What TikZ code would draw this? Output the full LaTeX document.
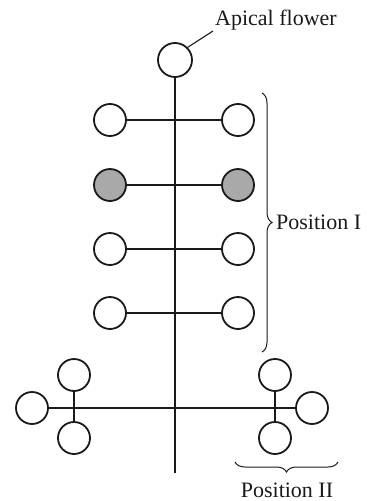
\documentclass[tikz,border=0pt]{standalone}
\usepackage{fontspec}
\setmainfont{Liberation Serif}
\usetikzlibrary{decorations.pathreplacing}
\definecolor{ink}{HTML}{1A1A1A}
\definecolor{shade}{HTML}{A9A9A9}
\begin{document}
\begin{tikzpicture}[x=1pt,y=-1pt,
  flower/.style={circle,draw=ink,line width=1.8pt,fill=white,minimum size=32pt,inner sep=0pt},
  shaded/.style={flower,fill=shade},
  axis/.style={draw=ink,line width=1.5pt},
  lbl/.style={font=\fontsize{22}{26}\selectfont,inner sep=0pt,text=ink},
  bracelines/.style={draw=ink,line width=1pt,decorate,decoration={brace,amplitude=10pt}}]
\useasboundingbox (0,0) rectangle (367,501);
% apical flower
\node[flower,minimum size=34pt] (a) at (175,60) {};
\coordinate (base) at (175,473);
\draw[axis] (a) -- (base);
\coordinate (lead) at (213,31);
\draw[draw=ink,line width=1.1pt] (a.45) -- (lead);
\node[lbl,anchor=base west] (apical) at (215,25) {Apical flower};
% position I rows
\node[flower] (l1) at (110,120) {};
\node[flower] (r1) at (238,120) {};
\node[shaded] (l2) at (110,185) {};
\node[shaded] (r2) at (238,185) {};
\node[flower] (l3) at (110,249) {};
\node[flower] (r3) at (238,249) {};
\node[flower] (l4) at (110,313) {};
\node[flower] (r4) at (238,313) {};
\foreach \i in {1,...,4} {\draw[axis] (l\i) -- (r\i);}
% bracket position I
\coordinate (b1) at (262,93);
\coordinate (b2) at (262,352);
\draw[bracelines] (b1) -- (b2);
\node[lbl,anchor=west] (p1) at (276,222) {Position I};
% bottom branches
\node[flower] (bl) at (32,408) {};
\node[flower] (br) at (312,408) {};
\draw[axis] (bl) -- (br);
\node[flower] (blt) at (74,375) {};
\node[flower] (blb) at (74,438) {};
\draw[axis] (blt) -- (blb);
\node[flower] (brt) at (275,375) {};
\node[flower] (brb) at (275,438) {};
\draw[axis] (brt) -- (brb);
% bracket position II
\coordinate (c1) at (338,462);
\coordinate (c2) at (235,462);
\draw[bracelines] (c1) -- (c2);
\node[lbl,anchor=base] (p2) at (287,497) {Position II};
\end{tikzpicture}
\end{document}
